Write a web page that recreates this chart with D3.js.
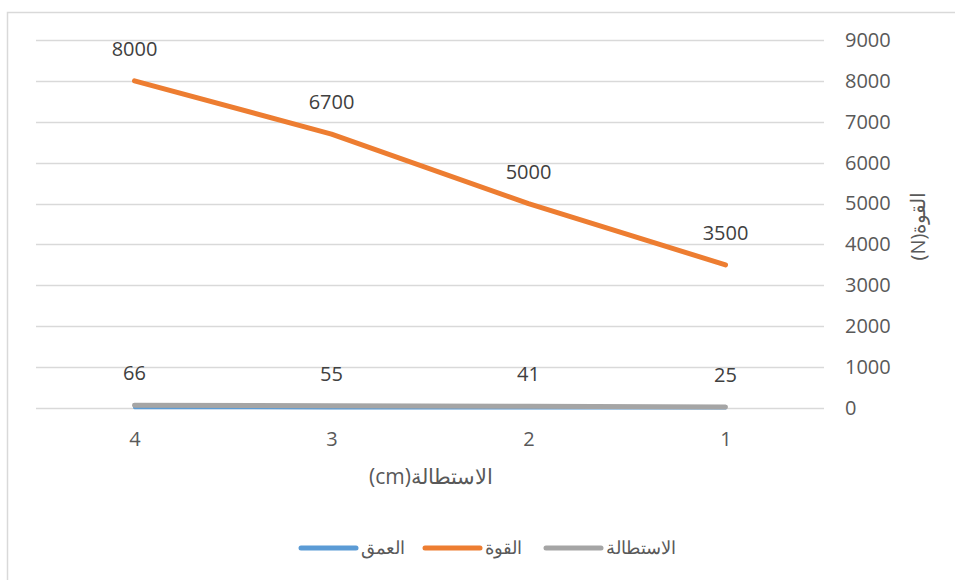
<!DOCTYPE html>
<html>
<head>
<meta charset="utf-8">
<script src="https://cdn.jsdelivr.net/npm/d3@7"></script>
<style>
  body { margin: 0; background: #fff; }
  svg { display: block; }
</style>
</head>
<body>
<div id="drawArea"></div>
<script>
// categories, left to right as drawn
var categories = ['4', '3', '2', '1'];
// series values
var depth = [4, 3, 2, 1];              // العمق
var force = [8000, 6700, 5000, 3500];  // القوة
var elong = [66, 55, 41, 25];          // الاستطالة
var yTicks = [0, 1000, 2000, 3000, 4000, 5000, 6000, 7000, 8000, 9000];

var seriesNames = ['العمق', 'القوة', 'الاستطالة'];
var seriesColors = ['#5B9BD5', '#ED7D31', '#A5A5A5'];

var W = 955, H = 580;
var textColor = '#595959';
var fontNum = '"Open Sans", sans-serif';

var svg = d3.select('#drawArea')
    .append('svg')
    .attr('width', W)
    .attr('height', H);

// chart frame
svg.append('rect')
    .attr('x', 7.5).attr('y', 12.5)
    .attr('width', W).attr('height', H)
    .attr('fill', '#fff')
    .attr('stroke', '#D9D9D9')
    .attr('stroke-width', 1.5);

var x = d3.scalePoint()
    .domain(categories)
    .range([36, 824])
    .padding(0.5);

var y = d3.scaleLinear()
    .domain([0, 9000])
    .range([408, 40]);

// gridlines
svg.append('g')
    .selectAll('line')
    .data(yTicks)
    .enter()
    .append('line')
    .attr('x1', 36).attr('x2', 824)
    .attr('y1', function (d) { return Math.round(y(d)) + 0.5; })
    .attr('y2', function (d) { return Math.round(y(d)) + 0.5; })
    .attr('stroke', '#D9D9D9')
    .attr('stroke-width', 1.5);

// y labels on the right
var yAxis = svg.append('g')
    .attr('transform', 'translate(824,0)')
    .call(d3.axisRight(y).tickValues(yTicks).tickFormat(d3.format('d')).tickSize(0).tickPadding(21));
yAxis.select('.domain').remove();
yAxis.selectAll('text')
    .attr('fill', textColor)
    .style('font-family', fontNum)
    .style('font-size', '20px')
    .attr('text-anchor', 'start');

// x labels
var xAxis = svg.append('g')
    .attr('transform', 'translate(0,408)')
    .call(d3.axisBottom(x).tickSize(0).tickPadding(24));
xAxis.select('.domain').remove();
xAxis.selectAll('text')
    .attr('fill', textColor)
    .style('font-family', fontNum)
    .style('font-size', '20px');

// axis titles
svg.append('text')
    .attr('x', 431).attr('y', 484)
    .attr('text-anchor', 'middle')
    .attr('direction', 'rtl')
    .attr('fill', textColor)
    .style('font-family', fontNum)
    .style('font-size', '21px')
    .text('الاستطالة(cm)');

svg.append('text')
    .attr('transform', 'translate(925,226) rotate(-90)')
    .attr('text-anchor', 'middle')
    .attr('direction', 'rtl')
    .attr('fill', textColor)
    .style('font-family', fontNum)
    .style('font-size', '20px')
    .text('القوة(N)');

// lines
var line = d3.line()
    .x(function (d, i) { return x(categories[i]); })
    .y(function (d) { return y(d); });

var allSeries = [depth, force, elong];
var widths = [3, 5, 5];
allSeries.forEach(function (s, k) {
    svg.append('path')
        .datum(s)
        .attr('d', line)
        .attr('fill', 'none')
        .attr('stroke', seriesColors[k])
        .attr('stroke-width', widths[k])
        .attr('stroke-linecap', 'round')
        .attr('stroke-linejoin', 'round');
});

// data labels for force and elongation
[force, elong].forEach(function (s) {
    svg.append('g')
        .selectAll('text')
        .data(s)
        .enter()
        .append('text')
        .attr('x', function (d, i) { return x(categories[i]); })
        .attr('y', function (d) { return y(d) - 25; })
        .attr('text-anchor', 'middle')
        .attr('fill', '#404040')
        .style('font-family', fontNum)
        .style('font-size', '20px')
        .text(function (d) { return d; });
});

// legend: line then name, left to right
var legendItems = [
    { name: seriesNames[0], color: seriesColors[0], x: 301 },
    { name: seriesNames[1], color: seriesColors[1], x: 425 },
    { name: seriesNames[2], color: seriesColors[2], x: 546 }
];
var lg = svg.append('g')
    .selectAll('g')
    .data(legendItems)
    .enter()
    .append('g')
    .attr('transform', function (d) { return 'translate(' + d.x + ',548)'; });
lg.append('line')
    .attr('x1', 0).attr('x2', 55)
    .attr('stroke', function (d) { return d.color; })
    .attr('stroke-width', 5)
    .attr('stroke-linecap', 'round');
lg.append('text')
    .attr('x', 60).attr('y', 6)
    .attr('fill', textColor)
    .style('font-family', fontNum)
    .style('font-size', '18px')
    .text(function (d) { return d.name; });
</script>
</body>
</html>
